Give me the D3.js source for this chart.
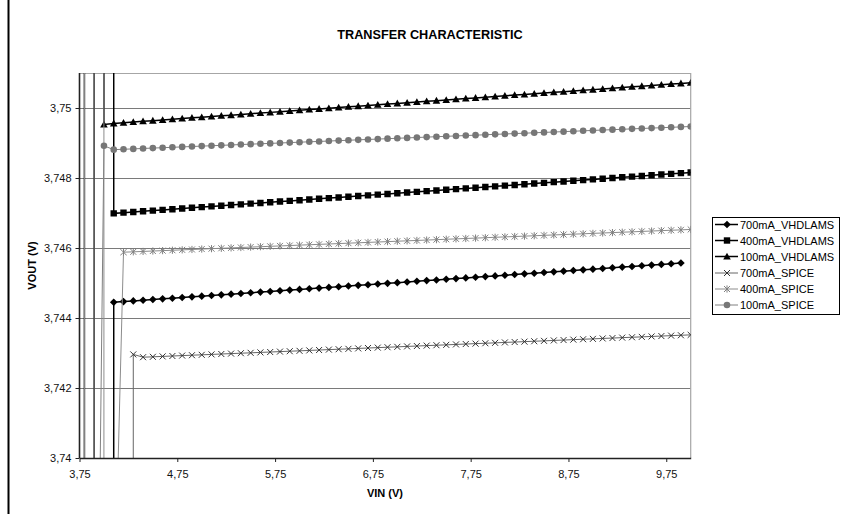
<!DOCTYPE html>
<html><head><meta charset="utf-8">
<script src="https://cdn.jsdelivr.net/npm/d3@7"></script>
<style>body{margin:0;background:#fff} svg{display:block;font-family:Arial,"Liberation Sans",sans-serif}</style>
</head><body><svg id="c" width="841" height="514"></svg>
<script>
const vin = [3.8,3.9,4.0,4.1,4.2,4.3,4.4,4.5,4.6,4.7,4.8,4.9,5.0,5.1,5.2,5.3,5.4,5.5,5.6,5.7,5.8,5.9,6.0,6.1,6.2,6.3,6.4,6.5,6.6,6.7,6.8,6.9,7.0,7.1,7.2,7.3,7.4,7.5,7.6,7.7,7.8,7.9,8.0,8.1,8.2,8.3,8.4,8.5,8.6,8.7,8.8,8.9,9.0,9.1,9.2,9.3,9.4,9.5,9.6,9.7,9.8,9.9,10.0];

const v700_VHDLAMS = [0,0,0,
3.744450,3.744469,3.744489,3.744508,3.744527,3.744547,3.744566,3.744585,3.744604,3.744624,
3.744643,3.744662,3.744682,3.744701,3.744720,3.744740,3.744759,3.744778,3.744797,3.744817,
3.744836,3.744855,3.744875,3.744894,3.744913,3.744933,3.744952,3.744971,3.744990,3.745010,
3.745029,3.745048,3.745068,3.745087,3.745106,3.745126,3.745145,3.745164,3.745183,3.745203,
3.745222,3.745241,3.745261,3.745280,3.745299,3.745319,3.745338,3.745357,3.745376,3.745396,
3.745415,3.745434,3.745454,3.745473,3.745492,3.745512,3.745531,3.745550,3.745570,
null];

const v400_VHDLAMS = [0,0,1000,
3.746990,3.747010,3.747030,3.747049,3.747069,3.747089,3.747109,3.747129,3.747148,3.747168,
3.747188,3.747208,3.747228,3.747247,3.747267,3.747287,3.747307,3.747327,3.747346,3.747366,
3.747386,3.747406,3.747426,3.747445,3.747465,3.747485,3.747505,3.747525,3.747544,3.747564,
3.747584,3.747604,3.747624,3.747643,3.747663,3.747683,3.747703,3.747723,3.747742,3.747762,
3.747782,3.747802,3.747822,3.747841,3.747861,3.747881,3.747901,3.747921,3.747940,3.747960,
3.747980,3.748000,3.748020,3.748039,3.748059,3.748079,3.748099,3.748119,3.748138,3.748158];

const v100_VHDLAMS = [0,1000,3.749530,
3.749560,3.749580,3.749599,3.749619,3.749639,3.749659,3.749678,3.749698,3.749718,3.749737,
3.749757,3.749777,3.749796,3.749816,3.749836,3.749856,3.749875,3.749895,3.749915,3.749934,
3.749954,3.749974,3.749993,3.750013,3.750033,3.750053,3.750072,3.750092,3.750112,3.750131,
3.750151,3.750171,3.750190,3.750210,3.750230,3.750250,3.750269,3.750289,3.750309,3.750328,
3.750348,3.750368,3.750387,3.750407,3.750427,3.750447,3.750466,3.750486,3.750506,3.750525,
3.750545,3.750565,3.750584,3.750604,3.750624,3.750644,3.750663,3.750683,3.750703,3.750722];

const v700_SPICE = [0,0,0,0,0,3.742960,
3.742880,3.742891,3.742903,3.742914,3.742926,3.742937,3.742948,3.742960,3.742971,3.742983,
3.742994,3.743005,3.743017,3.743028,3.743040,3.743051,3.743062,3.743074,3.743085,3.743097,
3.743108,3.743119,3.743131,3.743142,3.743154,3.743165,3.743176,3.743188,3.743199,3.743211,
3.743222,3.743233,3.743245,3.743256,3.743268,3.743279,3.743290,3.743302,3.743313,3.743325,
3.743336,3.743347,3.743359,3.743370,3.743382,3.743393,3.743404,3.743416,3.743427,3.743439,
3.743450,3.743461,3.743473,3.743484,3.743496,3.743507,3.743518];

const v400_SPICE = [0,1000,0,3.735,
3.745880,3.745891,3.745902,3.745914,3.745925,3.745936,3.745947,3.745958,3.745970,3.745981,
3.745992,3.746003,3.746014,3.746026,3.746037,3.746048,3.746059,3.746070,3.746082,3.746093,
3.746104,3.746115,3.746126,3.746138,3.746149,3.746160,3.746171,3.746182,3.746194,3.746205,
3.746216,3.746227,3.746238,3.746250,3.746261,3.746272,3.746283,3.746294,3.746306,3.746317,
3.746328,3.746339,3.746350,3.746362,3.746373,3.746384,3.746395,3.746406,3.746418,3.746429,
3.746440,3.746451,3.746462,3.746474,3.746485,3.746496,3.746507,3.746518,3.746530];

const v100_SPICE = [1000,3.7253,3.748920,
3.748810,3.748821,3.748832,3.748844,3.748855,3.748866,3.748877,3.748888,3.748900,3.748911,
3.748922,3.748933,3.748944,3.748956,3.748967,3.748978,3.748989,3.749000,3.749012,3.749023,
3.749034,3.749045,3.749056,3.749068,3.749079,3.749090,3.749101,3.749112,3.749124,3.749135,
3.749146,3.749157,3.749168,3.749180,3.749191,3.749202,3.749213,3.749224,3.749236,3.749247,
3.749258,3.749269,3.749280,3.749292,3.749303,3.749314,3.749325,3.749336,3.749348,3.749359,
3.749370,3.749381,3.749392,3.749404,3.749415,3.749426,3.749437,3.749448,3.749460,3.749471];

const seriesNames = ["700mA_VHDLAMS","400mA_VHDLAMS","100mA_VHDLAMS","700mA_SPICE","400mA_SPICE","100mA_SPICE"];
const seriesValues = [v700_VHDLAMS, v400_VHDLAMS, v100_VHDLAMS, v700_SPICE, v400_SPICE, v100_SPICE];

const yTicks = [3.74,3.742,3.744,3.746,3.748,3.75];
const yTickLabels = ["3,74","3,742","3,744","3,746","3,748","3,75"];
const xTicks = [3.75,4.75,5.75,6.75,7.75,8.75,9.75];
const xTickLabels = ["3,75","4,75","5,75","6,75","7,75","8,75","9,75"];

const chartTitle = "TRANSFER CHARACTERISTIC";
const xTitle = "VIN (V)";
const yTitle = "VOUT (V)";

// styles per series
const styles = [
  {line:"#000", lw:1.5, marker:"diamond", fill:"#000", stroke:"#000"},
  {line:"#000", lw:1.5, marker:"square", fill:"#000", stroke:"#000"},
  {line:"#000", lw:1.5, marker:"triangle", fill:"#000", stroke:"#000"},
  {line:"#666", lw:1, marker:"x", fill:"none", stroke:"#333"},
  {line:"#8c8c8c", lw:1, marker:"star", fill:"none", stroke:"#808080"},
  {line:"#808080", lw:1, marker:"circle", fill:"#777", stroke:"#777"}
];

const svg = d3.select("#c");
const L = 79.5, R = 690.7, T = 73, B = 458;
const x = d3.scaleLinear().domain([3.75, 10]).range([L, R]);
const y = d3.scaleLinear().domain([3.74, 3.751]).range([B, T]);

// outer chart border (left edge)
svg.append("line").attr("x1",8.5).attr("x2",8.5).attr("y1",0).attr("y2",514)
  .attr("stroke","#000").attr("stroke-width",2);

// title
svg.append("text").attr("x",430).attr("y",39).attr("text-anchor","middle")
  .attr("font-size","12.7px").attr("font-weight","bold").attr("fill","#000").text(chartTitle);

// gridlines
svg.append("g").selectAll("line").data(yTicks.slice(1)).join("line")
  .attr("x1",L).attr("x2",R).attr("y1",d=>Math.round(y(d))+0.5).attr("y2",d=>Math.round(y(d))+0.5)
  .attr("stroke","#7a7a7a").attr("stroke-width",1);

// plot border top/right
svg.append("path").attr("d",`M${L},${T+0.5}H${R}V${B}`).attr("fill","none")
  .attr("stroke","#a6a6a6").attr("stroke-width",1.2);

svg.append("defs").append("clipPath").attr("id","clip")
  .append("rect").attr("x",L).attr("y",T).attr("width",R-L).attr("height",B-T);

const gSeries = svg.append("g");
function markerPath(type){
  switch(type){
    case "diamond": return "M0,-3.8L3.8,0L0,3.8L-3.8,0Z";
    case "square": return "M-3.2,-3.2H3.2V3.2H-3.2Z";
    case "triangle": return "M0,-3.8L3.8,3L-3.8,3Z";
    case "x": return "M-3,-3L3,3M-3,3L3,-3";
    case "star": return "M-3,-3L3,3M-3,3L3,-3M0,-3.6V3.6";
    case "circle": return "M3.3,0A3.3,3.3 0 1,1 -3.3,0A3.3,3.3 0 1,1 3.3,0Z";
  }
}
function drawMarker(g, type, st){
  const p = g.append("path").attr("d", markerPath(type));
  if(type==="x"||type==="star") p.attr("fill","none").attr("stroke",st.stroke).attr("stroke-width",1);
  else p.attr("fill",st.fill).attr("stroke","none");
}

const lineGen = d3.line().defined(d=>d.v!==null).x(d=>x(d.x)).y(d=>y(d.v));
seriesValues.forEach((vals, i)=>{
  const st = styles[i];
  const pts = vin.map((xv,j)=>({x:xv, v:vals[j]}));
  const g = gSeries.append("g").attr("clip-path","url(#clip)");
  g.append("path").attr("d", lineGen(pts)).attr("fill","none")
    .attr("stroke",st.line).attr("stroke-width",st.lw);
  pts.filter(d=>d.v!==null && d.v>=3.74 && d.v<=3.751).forEach(d=>{
    const mg = g.append("g").attr("transform",`translate(${x(d.x)},${y(d.v)})`);
    drawMarker(mg, st.marker, st);
  });
});

// axes
const yAxis = d3.axisLeft(y).tickValues(yTicks).tickFormat((d,i)=>yTickLabels[i]).tickSize(4).tickSizeOuter(0).tickPadding(4);
const gy = svg.append("g").attr("transform",`translate(${L},0)`).call(yAxis);
const xAxis = d3.axisBottom(x).tickValues(xTicks).tickFormat((d,i)=>xTickLabels[i]).tickSize(4).tickSizeOuter(0).tickPadding(8);
const gx = svg.append("g").attr("transform",`translate(0,${B})`).call(xAxis);
[gx, gy].forEach(g=>{
  g.select(".domain").attr("stroke","#222").attr("stroke-width",1.6);
  g.selectAll(".tick line").attr("stroke","#222");
  g.selectAll(".tick text").attr("font-size","11px").attr("font-family","Arial, 'Liberation Sans', sans-serif").attr("fill","#111");
});
gy.select(".domain").attr("d",`M0,${T}V${B}`);

// axis titles
svg.append("text").attr("x",385).attr("y",497).attr("text-anchor","middle")
  .attr("font-size","11px").attr("font-weight","bold").text(xTitle);
svg.append("text").attr("transform","translate(35.5,265.5) rotate(-90)").attr("text-anchor","middle")
  .attr("font-size","11px").attr("font-weight","bold").text(yTitle);

// legend
const lg = svg.append("g");
lg.append("rect").attr("x",712.5).attr("y",217.5).attr("width",127).attr("height",97)
  .attr("fill","#fff").attr("stroke","#000").attr("stroke-width",1);
const rowY = [224.5, 240.5, 256.5, 273, 289, 305];
seriesNames.forEach((name,i)=>{
  const st = styles[i];
  const ry = rowY[i];
  lg.append("line").attr("x1",715).attr("x2",738).attr("y1",ry).attr("y2",ry)
    .attr("stroke",st.line).attr("stroke-width",st.lw);
  const mg = lg.append("g").attr("transform",`translate(727,${ry})`);
  drawMarker(mg, st.marker, st);
  lg.append("text").attr("x",740).attr("y",ry+4).attr("font-size","11px").attr("fill","#000").text(name);
});
</script>
</body></html>
